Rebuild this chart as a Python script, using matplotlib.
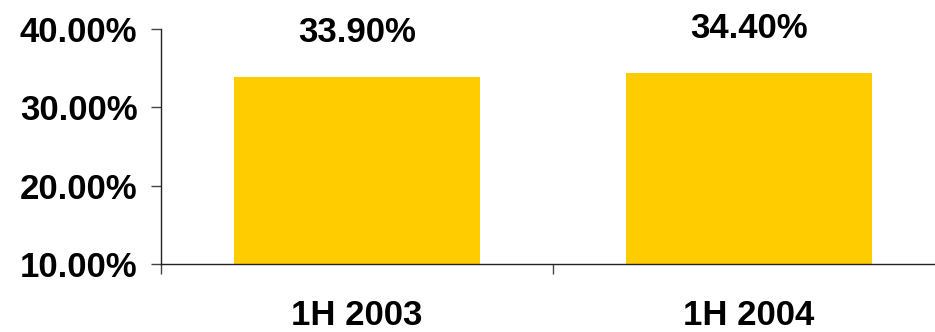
import matplotlib
matplotlib.use("Agg")
import matplotlib.pyplot as plt

categories = ['1H 2003', '1H 2004']
values = [33.90, 34.40]
y_ticks = [10, 20, 30, 40]

plt.rcParams['font.family'] = ['Liberation Sans', 'DejaVu Sans']

fig = plt.figure(figsize=(9.35, 3.32), dpi=100)
# ось выходит за правый край картинки, как в оригинале
ax = fig.add_axes([161 / 935, (332 - 264) / 332, (945 - 161) / 935, (264 - 29) / 332])

x = list(range(len(categories)))
ax.bar(x, [v - 10 for v in values], bottom=10, width=0.63, color='#FFCC00')

for xi, v in zip(x, values):
    ax.annotate(f'{v:.2f}%', (xi, v), xytext=(0, 32), textcoords='offset points',
                ha='center', va='center', fontsize=25, fontweight='bold')

ax.set_xlim(-0.5, len(categories) - 0.5)
ax.set_ylim(10, 40)
ax.set_yticks(y_ticks)
ax.set_yticklabels([f'{t:.2f}%' for t in y_ticks], fontsize=25, fontweight='bold')

# деления по границам категорий, подписи по центру
ax.set_xticks([i - 0.5 for i in range(len(categories) + 1)])
ax.set_xticklabels([])
ax.set_xticks(x, minor=True)
ax.set_xticklabels(categories, minor=True, fontsize=25, fontweight='bold')
ax.tick_params(axis='x', which='minor', length=0, pad=25)
ax.tick_params(axis='x', which='major', length=7, width=1, color='#444444')
ax.tick_params(axis='y', length=7, width=1, pad=10, color='#444444')

for s in ['top', 'right']:
    ax.spines[s].set_visible(False)
for s in ['left', 'bottom']:
    ax.spines[s].set_linewidth(1)
    ax.spines[s].set_color('#222222')

fig.savefig('out.png', dpi=100)
